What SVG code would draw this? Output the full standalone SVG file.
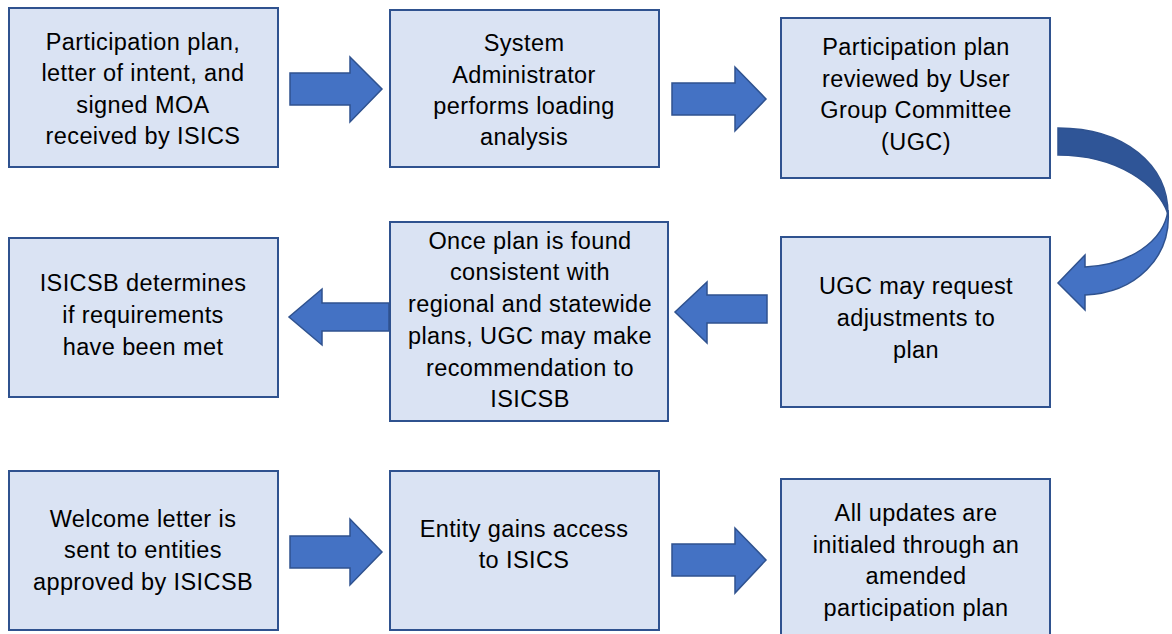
<svg xmlns="http://www.w3.org/2000/svg" width="1172" height="634" viewBox="0 0 1172 634">
<style>
.box{fill:#DAE3F3;stroke:#2F528F;stroke-width:2}
.arr{fill:#4472C4;stroke:#2F528F;stroke-width:1.5;stroke-linejoin:miter}
.dark{fill:#2F5597;stroke:#2F528F;stroke-width:1.5}
text{font-family:"Liberation Sans",Arial,sans-serif;font-size:23.5px;letter-spacing:0.4px;fill:#000;text-anchor:middle;dominant-baseline:central}
</style>
<rect width="1172" height="634" fill="#fff"/>
<g id="n1"><rect class="box" x="9" y="8" width="269" height="159"/>
<text x="143"><tspan x="143" y="42">Participation plan,</tspan><tspan x="143" y="73">letter of intent, and</tspan><tspan x="143" y="105">signed MOA</tspan><tspan x="143" y="136">received by ISICS</tspan></text></g>
<g id="n2"><rect class="box" x="390" y="10" width="269" height="157"/>
<text><tspan x="524" y="43">System</tspan><tspan x="524" y="75">Administrator</tspan><tspan x="524" y="106">performs loading</tspan><tspan x="524" y="137">analysis</tspan></text></g>
<g id="n3"><rect class="box" x="781" y="18" width="269" height="160"/>
<text><tspan x="916" y="47">Participation plan</tspan><tspan x="916" y="79">reviewed by User</tspan><tspan x="916" y="110">Group Committee</tspan><tspan x="916" y="142">(UGC)</tspan></text></g>
<g id="n4"><rect class="box" x="781" y="237" width="269" height="170"/>
<text><tspan x="916" y="286">UGC may request</tspan><tspan x="916" y="318">adjustments to</tspan><tspan x="916" y="350">plan</tspan></text></g>
<g id="n5"><rect class="box" x="390" y="222" width="278" height="199"/>
<text><tspan x="530" y="241">Once plan is found</tspan><tspan x="530" y="272">consistent with</tspan><tspan x="530" y="304">regional and statewide</tspan><tspan x="530" y="336">plans, UGC may make</tspan><tspan x="530" y="368">recommendation to</tspan><tspan x="530" y="399">ISICSB</tspan></text></g>
<g id="n6"><rect class="box" x="9" y="238" width="269" height="159"/>
<text><tspan x="143" y="283">ISICSB determines</tspan><tspan x="143" y="315">if requirements</tspan><tspan x="143" y="347">have been met</tspan></text></g>
<g id="n7"><rect class="box" x="9" y="471" width="269" height="159"/>
<text><tspan x="143" y="519">Welcome letter is</tspan><tspan x="143" y="550">sent to entities</tspan><tspan x="143" y="582">approved by ISICSB</tspan></text></g>
<g id="n8"><rect class="box" x="390" y="471" width="269" height="159"/>
<text><tspan x="524" y="529">Entity gains access</tspan><tspan x="524" y="560">to ISICS</tspan></text></g>
<g id="n9"><rect class="box" x="781" y="479" width="269" height="160"/>
<text><tspan x="916" y="513">All updates are</tspan><tspan x="916" y="545">initialed through an</tspan><tspan x="916" y="576">amended</tspan><tspan x="916" y="608">participation plan</tspan></text></g>
<g id="connectors">
<polygon class="arr" points="290,73 350,73 350,57 382,89 350,122 350,105 290,105"/>
<polygon class="arr" points="672,83 735,83 735,67 766,99 735,131 735,115 672,115"/>
<polygon class="arr" points="767,295 707,295 707,282 675,312 707,343 707,323 767,323"/>
<polygon class="arr" points="389,303 322,303 322,289 289,317 322,345 322,331 389,331"/>
<polygon class="arr" points="290,536 350,536 350,519 382,552 350,585 350,568 290,568"/>
<polygon class="arr" points="672,544 735,544 735,528 766,560 735,593 735,576 672,576"/>
<path class="dark" d="M1058,128 C1125,128 1168,165 1168,214 C1158,185 1118,155 1058,155 Z"/>
<path class="arr" d="M1168,210 C1172,258 1135,293 1085,295 L1085,310 L1058,283 L1085,255 L1085,267 C1128,265 1164,242 1168,210 Z"/>
</g>
</svg>
